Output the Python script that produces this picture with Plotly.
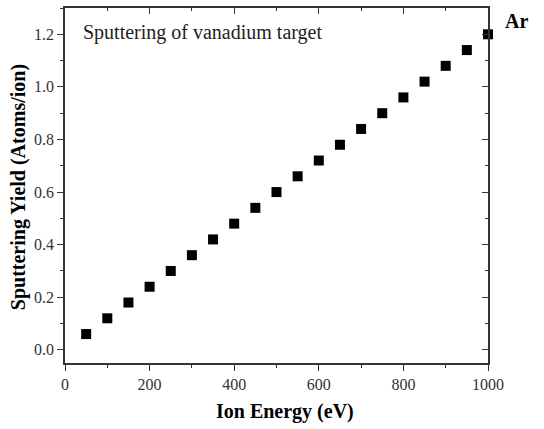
import plotly.graph_objects as go

energy = [50, 100, 150, 200, 250, 300, 350, 400, 450, 500,
          550, 600, 650, 700, 750, 800, 850, 900, 950, 1000]
yield_v = [0.06, 0.12, 0.18, 0.24, 0.30, 0.36, 0.42, 0.48, 0.54, 0.60,
           0.66, 0.72, 0.78, 0.84, 0.90, 0.96, 1.02, 1.08, 1.14, 1.20]
x_ticks = [0, 200, 400, 600, 800, 1000]
y_ticks = [0.0, 0.2, 0.4, 0.6, 0.8, 1.0, 1.2]
x_range = [0, 1000]
y_range = [-0.05, 1.3]

font = "Liberation Serif, Times New Roman, serif"
axc = "#333"

fig = go.Figure()
fig.add_trace(go.Scatter(
    x=energy, y=yield_v, mode="markers",
    marker=dict(symbol="square", size=10, color="black"),
    showlegend=False, cliponaxis=False, xaxis="x", yaxis="y",
))
# empty trace so the mirrored (inward-tick) top/right axes are drawn
fig.add_trace(go.Scatter(x=[], y=[], xaxis="x2", yaxis="y2",
                         showlegend=False, hoverinfo="skip"))

common = dict(showline=True, linecolor=axc, linewidth=1.5,
              tickwidth=1.2, tickcolor=axc, showgrid=False, zeroline=False)

fig.update_layout(
    width=544, height=429,
    margin=dict(l=65, r=56, t=8, b=66),
    paper_bgcolor="white", plot_bgcolor="white",
    font=dict(family=font, color="black"),
    xaxis=dict(
        range=x_range, tickvals=x_ticks, ticktext=[str(v) for v in x_ticks],
        ticks="outside", ticklen=6,
        minor=dict(dtick=100, tick0=0, ticks="outside", ticklen=3.5, tickcolor=axc),
        tickfont=dict(family=font, size=16, color=axc),
        **common,
    ),
    yaxis=dict(
        range=y_range, tickvals=y_ticks, ticktext=[f"{v:.1f}" for v in y_ticks],
        ticks="outside", ticklen=6,
        minor=dict(dtick=0.1, tick0=0, ticks="outside", ticklen=3.5, tickcolor=axc),
        tickfont=dict(family=font, size=16, color=axc),
        **common,
    ),
    xaxis2=dict(
        range=x_range, overlaying="x", side="top", anchor="y2",
        tickvals=x_ticks, showticklabels=False, ticks="inside", ticklen=6,
        minor=dict(dtick=100, tick0=0, ticks="inside", ticklen=3.5, tickcolor=axc),
        **common,
    ),
    yaxis2=dict(
        range=y_range, overlaying="y", side="right", anchor="x2",
        tickvals=y_ticks, showticklabels=False, ticks="inside", ticklen=6,
        minor=dict(dtick=0.1, tick0=0, ticks="inside", ticklen=3.5, tickcolor=axc),
        **common,
    ),
    annotations=[
        dict(text="Sputtering of vanadium target", x=38, y=1.205, xref="x", yref="y",
             xanchor="left", yanchor="middle", showarrow=False,
             font=dict(family=font, size=20, color="#222")),
        dict(text="<b>Ar</b>", x=1.067, y=1.25, xref="paper", yref="y",
             xanchor="center", yanchor="middle", showarrow=False,
             font=dict(family=font, size=20, color="black")),
        dict(text="<b>Ion Energy (eV)</b>", x=521, y=-0.138, xref="x", yref="paper",
             xanchor="center", yanchor="middle", showarrow=False,
             font=dict(family=font, size=20, color="black")),
        dict(text="<b>Sputtering Yield (Atoms/ion)</b>", x=-0.108, y=0.496,
             xref="paper", yref="paper", textangle=-90,
             xanchor="center", yanchor="middle", showarrow=False,
             font=dict(family=font, size=20, color="black")),
    ],
)

fig.write_html("out.html")
